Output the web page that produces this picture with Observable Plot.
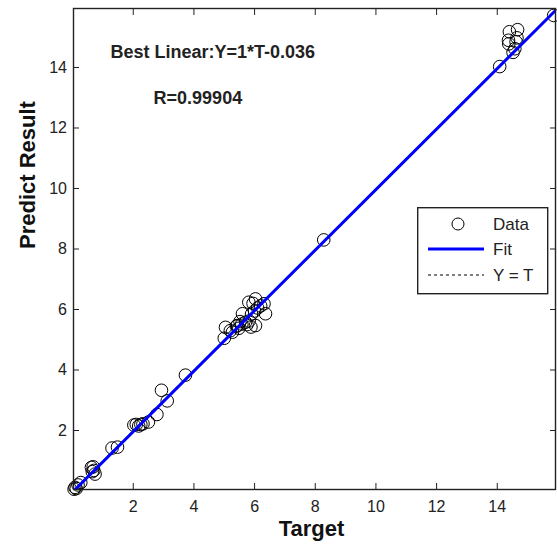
<!DOCTYPE html>
<html><head><meta charset="utf-8">
<script src="https://cdn.jsdelivr.net/npm/d3@7"></script>
<script src="https://cdn.jsdelivr.net/npm/@observablehq/plot@0.6"></script>
<style>
body{margin:0;background:#fff;}
#wrap{position:relative;width:557px;height:550px;font-family:"Liberation Sans",Arial,sans-serif;}
#legend{position:absolute;left:417px;top:207px;}
</style></head><body><div id="wrap"></div>
<script>
// Data
const target = [0.05,0.08,0.12,0.18,0.27,
  0.62,0.68,0.70,0.74,0.65,
  1.30,1.48,
  2.02,2.10,2.18,2.25,2.32,2.50,
  2.78,2.93,3.12,3.72,
  5.00,5.04,5.20,5.27,5.40,5.43,5.48,5.52,5.58,5.60,5.70,5.75,5.81,5.82,5.88,5.90,5.95,6.03,6.03,6.10,6.20,6.31,6.36,6.00,
  8.28,
  14.08,14.40,14.67,14.37,14.38,14.65,14.62,14.58,14.52,
  15.86];
const predict = [0.06,0.12,0.08,0.20,0.28,
  0.78,0.80,0.68,0.56,0.64,
  1.42,1.45,
  2.18,2.20,2.15,2.20,2.22,2.28,
  2.53,3.33,2.98,3.83,
  5.05,5.41,5.30,5.25,5.45,5.47,5.38,5.60,5.52,5.86,5.58,5.50,6.24,5.62,5.42,5.85,6.20,6.35,5.47,6.05,6.12,6.19,5.86,5.95,
  8.30,
  14.03,15.18,15.25,14.90,14.78,14.98,14.85,14.62,14.50,
  15.72];
const xTicks = [2,4,6,8,10,12,14];
const yTicks = [2,4,6,8,10,12,14];
const fitSlope = 1;
const fitIntercept = -0.036;
const rValue = 0.99904;
const legendLabels = ["Data","Fit","Y = T"];
const xLabel = "Target";
const yLabel = "Predict Result";

const xDomain = [0.03, 15.92];
const yDomain = [0.05, 15.95];

const points = target.map((t, i) => ({t, p: predict[i]}));
const fitLine = xDomain.map(x => ({x, y: fitSlope * x + fitIntercept}));
const idLine = xDomain.map(x => ({x, y: x}));
const noText = () => "";
const axisColor = "#222";

const chart = Plot.plot({
  width: 557, height: 550,
  marginLeft: 73, marginRight: 2, marginTop: 8, marginBottom: 61,
  style: {fontFamily: '"Liberation Sans", Arial, sans-serif', fontSize: "16px", color: axisColor, background: "#fff"},
  x: {domain: xDomain},
  y: {domain: yDomain},
  marks: [
    Plot.dot(points, {x: "t", y: "p", r: 6.3, stroke: "#000", strokeWidth: 1, fill: "none"}),
    Plot.line(idLine, {x: "x", y: "y", stroke: "#000", strokeWidth: 1, strokeDasharray: "3,3", clip: true}),
    Plot.line(fitLine, {x: "x", y: "y", stroke: "#0000ff", strokeWidth: 3, clip: true}),
    Plot.frame({stroke: axisColor, strokeWidth: 1.4}),
    Plot.axisX({anchor: "bottom", ticks: xTicks, tickSize: -6, tickPadding: 17, label: null, stroke: axisColor, fontSize: 16}),
    Plot.axisX({anchor: "top", ticks: xTicks, tickSize: -6, tickFormat: noText, label: null, stroke: axisColor}),
    Plot.axisY({anchor: "left", ticks: yTicks, tickSize: -6, tickPadding: 12.5, label: null, stroke: axisColor, fontSize: 16}),
    Plot.axisY({anchor: "right", ticks: yTicks, tickSize: -6, tickFormat: noText, label: null, stroke: axisColor}),
    Plot.text([xLabel], {frameAnchor: "bottom", dy: 46, dx: -3, fontSize: 22, fontWeight: "bold", fill: "#111"}),
    Plot.text([yLabel], {frameAnchor: "left", dx: -46, rotate: -90, fontSize: 22, fontWeight: "bold", fill: "#111"}),
    Plot.text([`Best Linear:Y=${fitSlope}*T${fitIntercept}`], {x: 1.25, y: 14.5, textAnchor: "start", fontSize: 18, fontWeight: "bold", fill: "#222"}),
    Plot.text([`R=${rValue}`], {x: 2.67, y: 12.97, textAnchor: "start", fontSize: 18, fontWeight: "bold", fill: "#222"})
  ]
});
const wrap = document.getElementById("wrap");
wrap.appendChild(chart);

// Legend box inside the plot area
const lw = 130, lh = 86;
const lg = d3.select(wrap).append("svg").attr("id", "legend").attr("width", lw + 2).attr("height", lh + 2);
lg.append("rect").attr("x", 0.7).attr("y", 0.7).attr("width", lw).attr("height", lh)
  .attr("fill", "#fff").attr("stroke", "#222").attr("stroke-width", 1.4);
const rowY = [17, 42, 68];
lg.append("circle").attr("cx", 41).attr("cy", rowY[0]).attr("r", 6).attr("fill", "none").attr("stroke", "#000");
lg.append("line").attr("x1", 11).attr("x2", 67).attr("y1", rowY[1]).attr("y2", rowY[1]).attr("stroke", "#0000ff").attr("stroke-width", 3);
lg.append("line").attr("x1", 11).attr("x2", 67).attr("y1", rowY[2]).attr("y2", rowY[2]).attr("stroke", "#000").attr("stroke-width", 1).attr("stroke-dasharray", "3,3");
lg.selectAll("text.lbl").data(legendLabels).join("text")
  .attr("x", 76).attr("y", (d, i) => rowY[i]).attr("dy", "0.35em")
  .attr("font-family", '"Liberation Sans", Arial, sans-serif').attr("font-size", 17).attr("fill", "#222")
  .text(d => d);
</script>
</body></html>
